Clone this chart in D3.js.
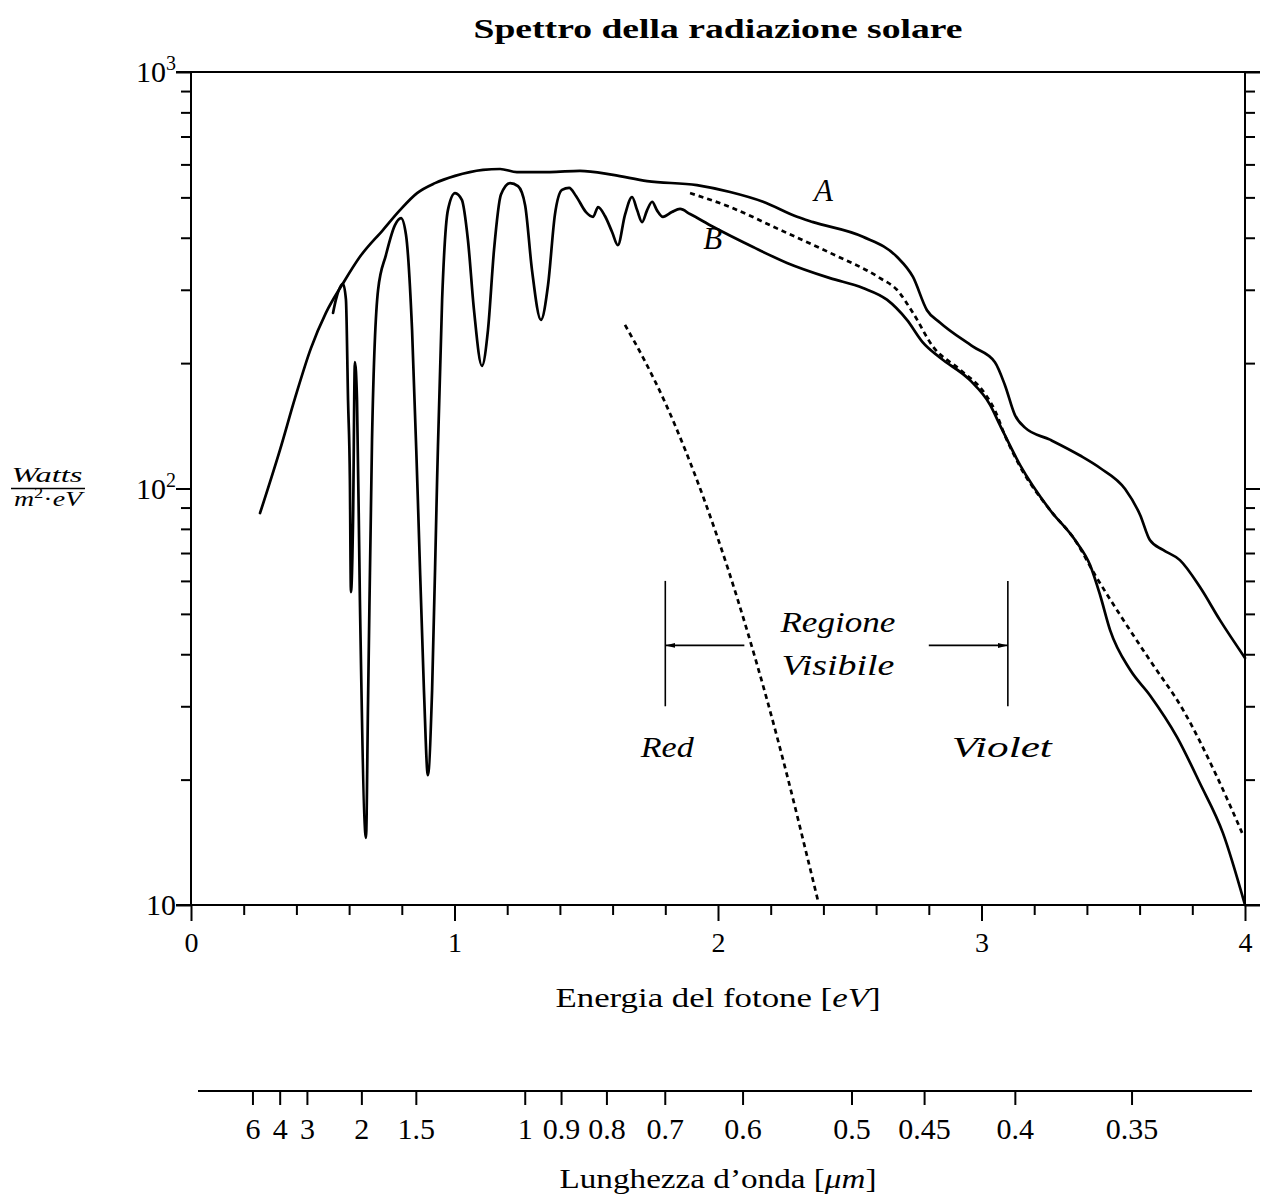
<!DOCTYPE html>
<html><head><meta charset="utf-8">
<script src="https://cdn.jsdelivr.net/npm/d3@7"></script>
<style>
body{margin:0;background:#fff;}
svg{display:block;font-family:"Liberation Serif","Times New Roman",serif;}
</style></head><body>
<svg id="chart" width="1264" height="1198"></svg>
<script>
// ---- data (photon energy in eV, spectral irradiance in W/(m^2 eV)) ----
const energyA=[0.262,0.338,0.395,0.455,0.512,0.577,0.641,0.729,0.793,0.858,0.926,1.002,1.108,1.173,1.237,1.362,1.476,1.602,1.731,1.920,2.046,2.171,2.300,2.361,2.550,2.679,2.740,2.793,2.843,2.968,3.051,3.089,3.127,3.165,3.260,3.374,3.450,3.545,3.602,3.639,3.689,3.753,3.829,3.905,4.0];
const fluxA=[87.3,124,165,217,264,311,360,418,466,512,541,563,582,585,575,575,579,566,547,535,515,488,449,436,402,360,322,268,250,219,201,177,150,140,131,120,112,99.7,86.4,75.2,71.2,67.3,58.0,48.3,39.2];

const energyB=[0.539,0.550,0.577,0.588,0.596,0.603,0.607,0.615,0.622,0.630,0.641,0.664,0.672,0.687,0.710,0.740,0.774,0.797,0.816,0.839,0.861,0.884,0.899,0.915,0.934,0.953,0.975,1.002,1.028,1.051,1.074,1.104,1.127,1.150,1.176,1.211,1.241,1.268,1.294,1.328,1.355,1.381,1.408,1.435,1.461,1.499,1.526,1.545,1.571,1.598,1.620,1.647,1.674,1.693,1.712,1.731,1.750,1.768,1.791,1.825,1.856,1.894,1.981,2.133,2.262,2.425,2.550,2.641,2.717,2.778,2.843,2.956,3.032,3.070,3.146,3.260,3.355,3.412,3.450,3.488,3.564,3.639,3.742,3.829,3.916,4.0];
const fluxB=[264,284,310,284,163,105,56.4,84.0,201,163,54.0,14.5,31.1,131,300,364,429,446,406,240,93.8,32.8,20.5,32.8,105,284,466,512,493,395,268,197,240,374,507,541,532,479,335,254,308,454,521,527,504,461,449,474,451,413,384,454,501,466,436,466,488,466,449,461,469,456,425,380,348,320,303,284,254,224,206,182,159,142,114,88.8,75.2,65.5,55.5,45.7,36.7,31.9,25.3,19.6,14.9,10.0];

const energyC=[1.894,2.046,2.235,2.425,2.615,2.679,2.740,2.816,2.918,3.013,3.051,3.089,3.146,3.260,3.355,3.431,3.526,3.639,3.765,3.894,3.989];
const fluxC=[512,474,418,368,320,300,264,219,193,169,154,134,113,88.8,75.2,62.0,49.7,38.7,29.4,20.3,14.9];

const energyD=[1.647,1.723,1.799,1.875,1.951,2.038,2.110,2.186,2.262,2.342,2.380];
const fluxD=[247,202,161,124,92.8,64.1,45.7,31.1,20.5,12.8,10.2];

const xMajorTicks=[0,1,2,3,4];
const xMinorTicks=[0.2,0.4,0.6,0.8,1.2,1.4,1.6,1.8,2.2,2.4,2.6,2.8,3.2,3.4,3.6,3.8];
const yMajorTicks=[10,100,1000];
const yMajorLabels=[["10",""],["10","2"],["10","3"]];
const yMinorTicks=[20,30,40,50,60,70,80,90,200,300,400,500,600,700,800,900];
const wavelengthTicks=[6,4,3,2,1.5,1,0.9,0.8,0.7,0.6,0.5,0.45,0.4,0.35];
const hc=1.24; // eV·µm

const visibleEdges=[1.8,3.1];      // eV (red, violet)
const bracketFlux=[30,60];
const arrowFlux=42;
const arrowStarts=[2.1,2.8];

// ---- scales ----
const svg=d3.select("#chart");
const x=d3.scaleLinear().domain([0,4]).range([191,1245]);
const y=d3.scaleLog().domain([10,1000]).range([905,72]);
const xw=d3.scaleLinear().domain([0,4]).range([198,1252]);

const black="#000";
const fs=28;

// ---- frame ----
const frame=svg.append("g").attr("stroke",black).attr("stroke-width",2).attr("fill","none");
[1000,10].forEach(v=>frame.append("line").attr("x1",x(0)-15).attr("x2",x(4)+15).attr("y1",y(v)).attr("y2",y(v)));
frame.append("line").attr("x1",x(0)).attr("x2",x(0)).attr("y1",y(1000)).attr("y2",y(10));
frame.append("line").attr("x1",x(4)).attr("x2",x(4)).attr("y1",y(1000)).attr("y2",y(10));

function styleAxis(g,w){g.select(".domain").remove();g.selectAll(".tick line").attr("stroke",black).attr("stroke-width",w);}

svg.append("g").attr("transform",`translate(${x(0)},0)`)
  .call(d3.axisLeft(y).tickValues(yMinorTicks).tickSize(10).tickFormat(""))
  .call(g=>styleAxis(g,2));
svg.append("g").attr("transform",`translate(${x(0)},0)`)
  .call(d3.axisLeft(y).tickValues(yMajorTicks).tickSize(15).tickFormat(""))
  .call(g=>styleAxis(g,2));
svg.append("g").attr("transform",`translate(${x(4)},0)`)
  .call(d3.axisRight(y).tickValues(yMinorTicks).tickSize(10).tickFormat(""))
  .call(g=>styleAxis(g,2));
svg.append("g").attr("transform",`translate(${x(4)},0)`)
  .call(d3.axisRight(y).tickValues(yMajorTicks).tickSize(15).tickFormat(""))
  .call(g=>styleAxis(g,2));

svg.append("g").attr("transform",`translate(0,${y(10)})`)
  .call(d3.axisBottom(x).tickValues(xMinorTicks).tickSize(10).tickFormat(""))
  .call(g=>styleAxis(g,2));
svg.append("g").attr("transform",`translate(0,${y(10)})`)
  .call(d3.axisBottom(x).tickValues(xMajorTicks).tickSize(16).tickPadding(11).tickFormat(d3.format("d")))
  .call(g=>{styleAxis(g,2);g.selectAll("text").attr("font-size",fs).attr("font-family","Liberation Serif").attr("fill",black);});

// y tick labels
yMajorTicks.forEach((v,i)=>{
  const t=svg.append("text").attr("x",x(0)-15).attr("y",y(v)+10).attr("text-anchor","end")
    .attr("font-size",30).attr("fill",black);
  t.append("tspan").text(yMajorLabels[i][0]);
  if(yMajorLabels[i][1]) t.append("tspan").attr("font-size",20).attr("dy",-12).text(yMajorLabels[i][1]);
});

// y title (fraction)
const yt=svg.append("g");
yt.append("text").attr("x",47).attr("y",482).attr("text-anchor","middle").attr("font-size",22).attr("font-style","italic")
  .attr("textLength",71).attr("lengthAdjust","spacingAndGlyphs").text("Watts");
yt.append("line").attr("x1",11).attr("x2",85).attr("y1",488.5).attr("y2",488.5).attr("stroke",black).attr("stroke-width",1.3);
const den=yt.append("text").attr("x",48).attr("y",506).attr("text-anchor","middle").attr("font-size",21).attr("font-style","italic")
  .attr("textLength",68).attr("lengthAdjust","spacingAndGlyphs");
den.append("tspan").text("m");
den.append("tspan").attr("font-size",14).attr("dy",-8).attr("font-style","normal").text("2");
den.append("tspan").attr("dy",8).attr("font-style","normal").text("·");
den.append("tspan").text("eV");

// title
svg.append("text").attr("x",718).attr("y",38).attr("text-anchor","middle").attr("font-size",28).attr("font-weight","bold")
  .attr("textLength",489).attr("lengthAdjust","spacingAndGlyphs").text("Spettro della radiazione solare");

// x title
const xt=svg.append("text").attr("x",718).attr("y",1007).attr("text-anchor","middle").attr("font-size",fs)
  .attr("textLength",325).attr("lengthAdjust","spacingAndGlyphs");
xt.append("tspan").text("Energia del fotone [");
xt.append("tspan").attr("font-style","italic").text("eV");
xt.append("tspan").text("]");

// ---- wavelength axis ----
svg.append("line").attr("x1",xw(0)).attr("x2",xw(4)).attr("y1",1091).attr("y2",1091).attr("stroke",black).attr("stroke-width",2);
svg.append("g").attr("transform","translate(0,1091)")
  .call(d3.axisBottom(xw).tickValues(wavelengthTicks.map(l=>hc/l)).tickSize(14).tickPadding(13).tickFormat((d,i)=>String(wavelengthTicks[i])))
  .call(g=>{styleAxis(g,2);g.selectAll("text").attr("font-size",30).attr("font-family","Liberation Serif").attr("fill",black);});
const wt=svg.append("text").attr("x",718).attr("y",1188).attr("text-anchor","middle").attr("font-size",fs)
  .attr("textLength",317).attr("lengthAdjust","spacingAndGlyphs");
wt.append("tspan").text("Lunghezza d’onda [");
wt.append("tspan").attr("font-style","italic").text("μm");
wt.append("tspan").text("]");

// ---- curves ----
const line=d3.line().x(d=>x(d[0])).y(d=>y(d[1])).curve(d3.curveMonotoneX);
const zipped=(e,f)=>e.map((v,i)=>[v,f[i]]);
const curves=svg.append("g").attr("fill","none").attr("stroke",black).attr("stroke-linejoin","round").attr("stroke-linecap","round");
curves.append("path").attr("d",line(zipped(energyA,fluxA))).attr("stroke-width",2.7);
curves.append("path").attr("d",line(zipped(energyB,fluxB))).attr("stroke-width",2.7);
curves.append("path").attr("d",line(zipped(energyC,fluxC))).attr("stroke-width",2.7).attr("stroke-dasharray","5,4").attr("stroke-linecap","butt");
curves.append("path").attr("d",line(zipped(energyD,fluxD))).attr("stroke-width",2.7).attr("stroke-dasharray","5,4").attr("stroke-linecap","butt");

// curve labels
svg.append("text").attr("x",x(2.4)).attr("y",y(520)+11).attr("text-anchor","middle").attr("font-size",31).attr("font-style","italic").text("A");
svg.append("text").attr("x",x(1.98)).attr("y",y(400)+11).attr("text-anchor","middle").attr("font-size",31).attr("font-style","italic").text("B");

// ---- visible region annotation ----
const defs=svg.append("defs");
defs.append("marker").attr("id","ah").attr("viewBox","0 -4 10 8").attr("refX",10).attr("refY",0)
  .attr("markerWidth",10).attr("markerHeight",8).attr("markerUnits","userSpaceOnUse").attr("orient","auto")
  .append("path").attr("d","M0,-2.5L10,0L0,2.5Z").attr("fill",black);
const ann=svg.append("g").attr("stroke",black).attr("stroke-width",1.6);
visibleEdges.forEach((e,i)=>{
  ann.append("line").attr("x1",x(e)).attr("x2",x(e)).attr("y1",y(bracketFlux[1])).attr("y2",y(bracketFlux[0]));
  ann.append("line").attr("x1",x(arrowStarts[i])).attr("x2",x(e)).attr("y1",y(arrowFlux)).attr("y2",y(arrowFlux)).attr("marker-end","url(#ah)");
});
const itext=(t,xx,yy,len)=>svg.append("text").attr("x",xx).attr("y",yy).attr("text-anchor","middle").attr("font-size",30)
  .attr("font-style","italic").attr("textLength",len).attr("lengthAdjust","spacingAndGlyphs").text(t);
itext("Regione",x(2.455),y(arrowFlux)-13,115);
itext("Visibile",x(2.455),y(arrowFlux)+30,113);
itext("Red",x(visibleEdges[0])+2,y(bracketFlux[0])+51,53);
itext("Violet",x(visibleEdges[1])-6,y(bracketFlux[0])+51,100);
</script>
</body></html>
